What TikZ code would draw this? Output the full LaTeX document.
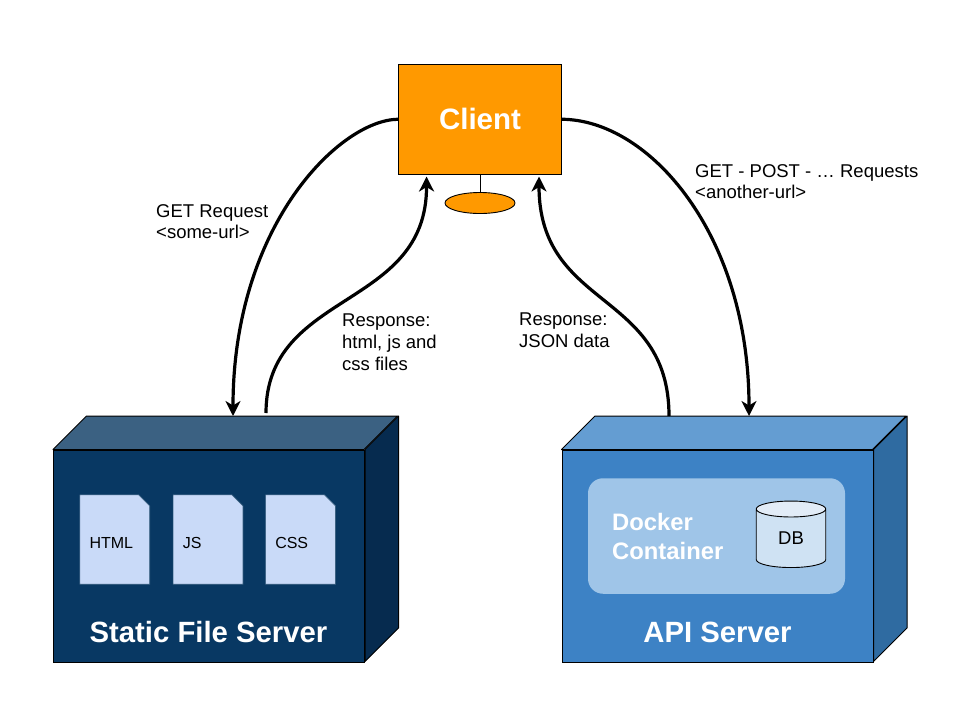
\documentclass[tikz,border=0pt]{standalone}
\usepackage{fontspec}
\setmainfont{Liberation Sans}
\usepackage{tikz}
\usetikzlibrary{arrows.meta,positioning,shapes.geometric}
\definecolor{porange}{HTML}{FF9900}
\definecolor{sfront}{HTML}{083863}
\definecolor{stop}{HTML}{3B6182}
\definecolor{sside}{HTML}{062B4F}
\definecolor{afront}{HTML}{3D82C5}
\definecolor{atop}{HTML}{649DD2}
\definecolor{aside}{HTML}{2F6BA1}
\definecolor{dsheet}{HTML}{C9DAF8}
\definecolor{dockbg}{HTML}{9FC5E8}
\definecolor{dbbody}{HTML}{CFE2F3}
\definecolor{dbend}{HTML}{E2ECF7}

\begin{document}
\begin{tikzpicture}[x=1pt,y=-1pt,
  cube/.style={draw=black,line width=1pt,inner sep=0pt,minimum width=311pt,minimum height=212pt},
  face/.style={draw=black,line width=1pt,line join=round},
  client/.style={draw=black,line width=1pt,fill=porange,inner sep=0pt,minimum width=163pt,minimum height=109.5pt,
    text=white,font=\fontsize{29.5}{32}\selectfont\bfseries},
  knob/.style={ellipse,draw=black,line width=0.9pt,fill=porange,inner sep=0pt,minimum width=70pt,minimum height=21pt},
  sheet/.style={inner sep=0pt,minimum width=69.5pt,minimum height=89pt},
  sheetface/.style={draw=stop,line width=0.6pt,fill=dsheet},
  lbl/.style={align=left,inner sep=0pt,font=\fontsize{18.5}{21.7}\selectfont},
  doclbl/.style={inner sep=0pt,font=\fontsize{16}{19}\selectfont},
  title/.style={text=white,inner sep=0pt,font=\fontsize{29.3}{32}\selectfont\bfseries},
  arr/.style={-{Stealth[length=15pt,width=15pt,inset=4.5pt]},line width=3.2pt,black}]

\useasboundingbox (0,0) rectangle (960,720);

% ---- client ------------------------------------------------------------
\node[client]       (cl)   at (480,119.25) {\raisebox{-1pt}{Client}};
\node[knob]         (knob) at (480,203)    {};
\draw[line width=0.9pt] (cl.south) -- (knob.north);

% ---- static file server ------------------------------------------------
\node[cube,fill=sfront] (sfs) at (209,556) {};
\draw[face,fill=stop]  (sfs.north west) -- ++(33.5,-33.5) -- ++(311,0) -- ++(-33.5,33.5) -- cycle;
\draw[face,fill=sside] (sfs.north east) -- ++(33.5,-33.5) -- ++(0,212) -- ++(-33.5,33.5) -- cycle;
\node[sheet] (d1) at (114.75,539.5) {};
\node[sheet] (d2) at (208,539.5)    {};
\node[sheet] (d3) at (300.5,539.5)  {};
\foreach \d in {d1,d2,d3}
  \draw[sheetface] (\d.north west) -- ([xshift=-11pt]\d.north east) -- ([yshift=-11pt]\d.north east)
    -- (\d.south east) -- (\d.south west) -- cycle;
\node[doclbl,anchor=west] (d1t) at ([xshift=9.5pt,yshift=-3.5pt]d1.west) {HTML};
\node[doclbl,anchor=west] (d2t) at ([xshift=9.5pt,yshift=-3.5pt]d2.west) {JS};
\node[doclbl,anchor=west] (d3t) at ([xshift=9.5pt,yshift=-3.5pt]d3.west) {CSS};
\node[title] (sfst) at (208.5,632) {Static File Server};

% ---- api server --------------------------------------------------------
\node[cube,fill=afront] (api) at (717.5,556) {};
\draw[face,fill=atop]  (api.north west) -- ++(33.5,-33.5) -- ++(311,0) -- ++(-33.5,33.5) -- cycle;
\draw[face,fill=aside] (api.north east) -- ++(33.5,-33.5) -- ++(0,212) -- ++(-33.5,33.5) -- cycle;
\node[fill=dockbg,rounded corners=15pt,inner sep=0pt,minimum width=257pt,minimum height=115.5pt] (dock) at (716.5,536) {};
\node[lbl,anchor=west,text=white,font=\fontsize{23.8}{29}\selectfont\bfseries] (dockt) at (612,536) {Docker\\Container};
\node[cylinder,shape border rotate=90,draw=black,line width=0.9pt,cylinder uses custom fill,
  cylinder body fill=dbbody,cylinder end fill=dbend,aspect=0.62,inner sep=0pt,minimum width=69.5pt,minimum height=66.5pt,
  font=\fontsize{18.5}{21}\selectfont] (db) at (791,538.5) {DB};
\node[title] (apit) at (717.5,632) {API Server};

% ---- the requests ------------------------------------------------------
\coordinate (sin)  at (233,416);
\coordinate (sout) at (266,413);
\coordinate (ain)  at (749,416);
\coordinate (aout) at (669,416);
\coordinate (cin1) at ([xshift=-53.5pt,yshift=-2pt]cl.south);
\coordinate (cin2) at ([xshift=59pt,yshift=-2pt]cl.south);
\draw[arr] (cl.west) .. controls (340,120) and (233,225) .. (sin);
\draw[arr] (sout) .. controls (266,290) and (427,310) .. (cin1);
\draw[arr] (aout) .. controls (669,290) and (539,310) .. (cin2);
\draw[arr] (cl.east) .. controls (650,120) and (749,235) .. (ain);

% ---- labels ------------------------------------------------------------
\node[lbl,anchor=north west] (l1) at (156,204) {GET Request\\<some-url>};
\node[lbl,anchor=north west] (l2) at (342,314) {Response:\\html, js and\\css files};
\node[lbl,anchor=north west] (l3) at (519,313) {Response:\\JSON data};
\node[lbl,anchor=north west] (l4) at (695,164) {GET - POST - … Requests\\<another-url>};
\end{tikzpicture}
\end{document}
